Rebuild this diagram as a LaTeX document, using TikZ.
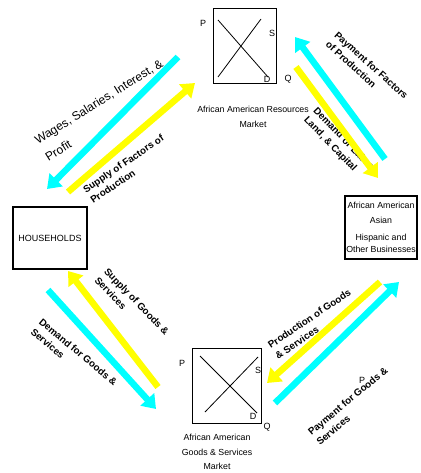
\documentclass[tikz,border=0pt]{standalone}
\usepackage{fontspec}
\setmainfont{Liberation Sans}
\usetikzlibrary{arrows.meta}
\definecolor{flowcyan}{RGB}{0,255,255}
\definecolor{flowyellow}{RGB}{255,255,0}
\begin{document}
\begin{tikzpicture}[x=1pt, y=-1pt, line width=0.8pt,
  flow/.style={line width=6.5pt, -{Triangle[length=13pt,width=18pt]}},
  lbl/.style={font=\bfseries\fontsize{9.8}{13}\selectfont, align=left, inner sep=0pt},
  mkt/.style={font=\fontsize{8.8}{15}\selectfont, align=center, inner sep=0pt},
  pq/.style={font=\fontsize{9}{9}\selectfont, inner sep=0pt}]

\useasboundingbox (0,0) rectangle (420,473);

% resources market
\draw (213,8) rectangle (276,83);
\draw (218,20)--(268,77);
\draw (218,77)--(261,19);
\node [pq] (resP) at (203,23) {P};
\node [pq] (resS) at (272,33) {S};
\node [pq] (resD) at (267,79) {D};
\node [pq] (resQ) at (288,79) {Q};
\node [mkt] (resmkt) at (253,117) {African American Resources\\Market};

% goods market
\draw (192,348) rectangle (261,423);
\draw (200,356)--(257,413);
\draw (205,412)--(258,357);
\node [pq] (gdsP) at (182,363) {P};
\node [pq] (gdsS) at (258,370) {S};
\node [pq] (gdsD) at (253,416) {D};
\node [pq] (gdsQ) at (267,427) {Q};
\node [mkt, font=\fontsize{8.8}{14.5}\selectfont] (gdsmkt) at (217,452) {African American\\Goods \& Services\\Market};

% households and firms
\node [draw, line width=2.5pt, minimum width=74, minimum height=62,
  font=\fontsize{9}{9}\selectfont] (hh) at (50,238) {HOUSEHOLDS};
\node [draw, line width=2.5pt, minimum width=72, minimum height=63, inner sep=0pt,
  align=center, font=\fontsize{8.8}{12}\selectfont] (biz) at (381,227.5)
  {African American\\[3pt]Asian\\[5pt]Hispanic and\\Other Businesses};

% labels
\node [lbl, font=\fontsize{12}{20}\selectfont, rotate=32] (wages) at (104,110) {Wages, Salaries, Interest, \&\\Profit};
\node [lbl, rotate=34] (supfac) at (127,169) {Supply of Factors of\\Production};
\node [lbl, rotate=-42] (payfac) at (367,70) {Payment for Factors\\of Production};
\node [lbl, rotate=-46] (demlab) at (339,144) {Demand or Labor,\\Land, \& Capital};
\node [lbl, rotate=-46] (supgds) at (132,306) {Supply of Goods \&\\Services};
\node [lbl, rotate=-40] (demgds) at (74,357) {Demand for Goods \&\\Services};
\node [lbl, rotate=34] (prodgds) at (313,324) {Production of Goods\\\& Services};
\node [lbl, rotate=40] (paygds) at (352,406) {Payment for Goods \&\\Services};
\node [pq] (strayP) at (362,380) {P};

% flows
\coordinate (wagesA) at (178,57);
\coordinate (wagesB) at (47,189);
\coordinate (factA) at (68,192);
\coordinate (factB) at (195,83);
\coordinate (payfA) at (385,159);
\coordinate (payfB) at (295,37);
\coordinate (labA) at (296,67);
\coordinate (labB) at (378,178);
\coordinate (supgA) at (158,387);
\coordinate (supgB) at (68,271);
\coordinate (demgA) at (48,290);
\coordinate (demgB) at (156,409);
\coordinate (prodA) at (380,282);
\coordinate (prodB) at (267,383);
\coordinate (paygA) at (275,403);
\coordinate (paygB) at (399,282);

\draw [flow, flowcyan] (wagesA)--(wagesB);
\draw [flow, flowyellow] (factA)--(factB);
\draw [flow, flowcyan] (payfA)--(payfB);
\draw [flow, flowyellow] (labA)--(labB);
\draw [flow, flowyellow] (supgA)--(supgB);
\draw [flow, flowcyan] (demgA)--(demgB);
\draw [flow, flowyellow] (prodA)--(prodB);
\draw [flow, flowcyan] (paygA)--(paygB);
\end{tikzpicture}
\end{document}
